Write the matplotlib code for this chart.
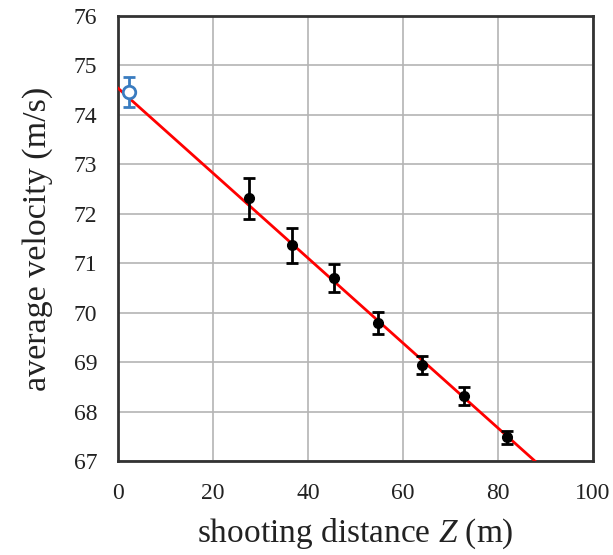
import numpy as np
import matplotlib
matplotlib.use('Agg')
import matplotlib.pyplot as plt

plt.rcParams['font.family'] = ['Liberation Serif', 'DejaVu Serif']
plt.rcParams['mathtext.fontset'] = 'custom'
plt.rcParams['mathtext.it'] = 'Liberation Serif:italic'
plt.rcParams['mathtext.rm'] = 'Liberation Serif'

# 测量点
z = [27.6, 36.6, 45.5, 54.8, 64.1, 72.8, 82.0]
v = [72.31, 71.36, 70.70, 69.79, 68.94, 68.31, 67.48]
err = [0.42, 0.35, 0.29, 0.23, 0.18, 0.18, 0.13]

# 外推点
z0 = [2.3]
v0 = [74.46]
err0 = [0.30]

# 拟合直线
fit_z = [0.0, 87.8]
fit_v = [74.54, 67.0]

fig = plt.figure(figsize=(6.13, 5.55), dpi=100)
ax = fig.add_axes([0.1925, 0.1694, 0.7745, 0.8018])

ax.plot(fit_z, fit_v, color='#ff0000', lw=2, zorder=3)
ax.errorbar(z, v, yerr=err, fmt='o', color='black', ms=7, capsize=4,
            elinewidth=2, capthick=2, zorder=4)
ax.errorbar(z0, v0, yerr=err0, fmt='o', color='#3a7cc0', mfc='white',
            mec='#3a7cc0', mew=2, ms=9, capsize=4, elinewidth=2,
            capthick=2, zorder=5)

ax.set_xlim(0, 100)
ax.set_ylim(67, 76)
ax.set_xticks(np.arange(0, 101, 20))
ax.set_yticks(np.arange(67, 77, 1))
ax.grid(True, color='#b4b4b4', lw=1.2)
ax.set_axisbelow(True)
ax.tick_params(length=0, labelsize=17, colors='#222222')
ax.tick_params(axis='y', pad=15)
ax.tick_params(axis='x', pad=16)
for s in ax.spines.values():
    s.set_linewidth(2)
    s.set_color('#333333')

ax.set_xlabel('shooting distance $Z$ (m)', fontsize=24, color='#222222', labelpad=9)
ax.set_ylabel('average velocity (m/s)', fontsize=24.5, color='#222222', labelpad=15)

fig.savefig('out.png', dpi=100)
